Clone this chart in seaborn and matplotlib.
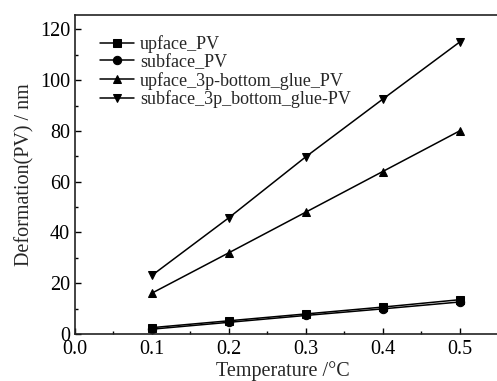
import numpy as np
import pandas as pd
import matplotlib
matplotlib.use('Agg')
import matplotlib.pyplot as plt
import seaborn as sns
from matplotlib.ticker import MultipleLocator

temperature = [0.1, 0.2, 0.3, 0.4, 0.5]
upface_pv = [2.5, 5.2, 7.9, 10.6, 13.5]
subface_pv = [1.9, 4.6, 7.3, 9.9, 12.6]
upface_3p_glue = [16.1, 32.0, 48.0, 64.0, 80.0]
subface_3p_glue = [23.1, 45.8, 69.8, 92.5, 115.0]

series_names = ['upface_PV', 'subface_PV', 'upface_3p-bottom_glue_PV', 'subface_3p_bottom_glue-PV']
series_values = [upface_pv, subface_pv, upface_3p_glue, subface_3p_glue]
markers = ['s', 'o', '^', 'v']

rows = []
for name, vals in zip(series_names, series_values):
    for t, v in zip(temperature, vals):
        rows.append({'Temperature': t, 'PV': v, 'series': name})
df = pd.DataFrame(rows)

sns.set_style('ticks')
plt.rcParams['font.family'] = ['Liberation Serif', 'DejaVu Serif']

fig = plt.figure(figsize=(4.97, 3.81), dpi=100)
ax = fig.add_axes([0.151, 0.1234, 0.87, 0.8373])

for name, m in zip(series_names, markers):
    d = df[df['series'] == name]
    sns.lineplot(data=d, x='Temperature', y='PV', ax=ax, color='black', marker=m,
                 markersize=6, markeredgecolor='black', linewidth=1.1, label=name)

# axis stretched past the right edge, as in the cropped original
ax.set_xlim(0, 0.55 * 0.87 / 0.851)
ax.set_ylim(0, 125.7)
ax.xaxis.set_major_locator(MultipleLocator(0.1))
ax.xaxis.set_minor_locator(MultipleLocator(0.05))
ax.yaxis.set_major_locator(MultipleLocator(20))
ax.yaxis.set_minor_locator(MultipleLocator(10))
ax.xaxis.set_major_formatter(matplotlib.ticker.FormatStrFormatter('%.1f'))
ax.tick_params(which='both', direction='in', labelsize=14.5, colors='black', width=1)
ax.tick_params(which='major', length=4)
ax.tick_params(which='minor', length=2.5)
ax.tick_params(axis='x', pad=4)
for s in ax.spines.values():
    s.set_linewidth(1.2)
    s.set_color('#222222')

ax.set_xlabel('Temperature /°C', fontsize=14.5, labelpad=2)
ax.set_ylabel('Deformation(PV) / nm', fontsize=14.5, labelpad=4)
ax.xaxis.set_label_coords(0.48, -0.085)

leg = ax.legend(loc='upper left', bbox_to_anchor=(0.04, 0.96), frameon=False,
                fontsize=13, handlelength=1.9, handletextpad=0.35, labelspacing=0.05,
                borderaxespad=0)

fig.savefig('out.png', dpi=100)
